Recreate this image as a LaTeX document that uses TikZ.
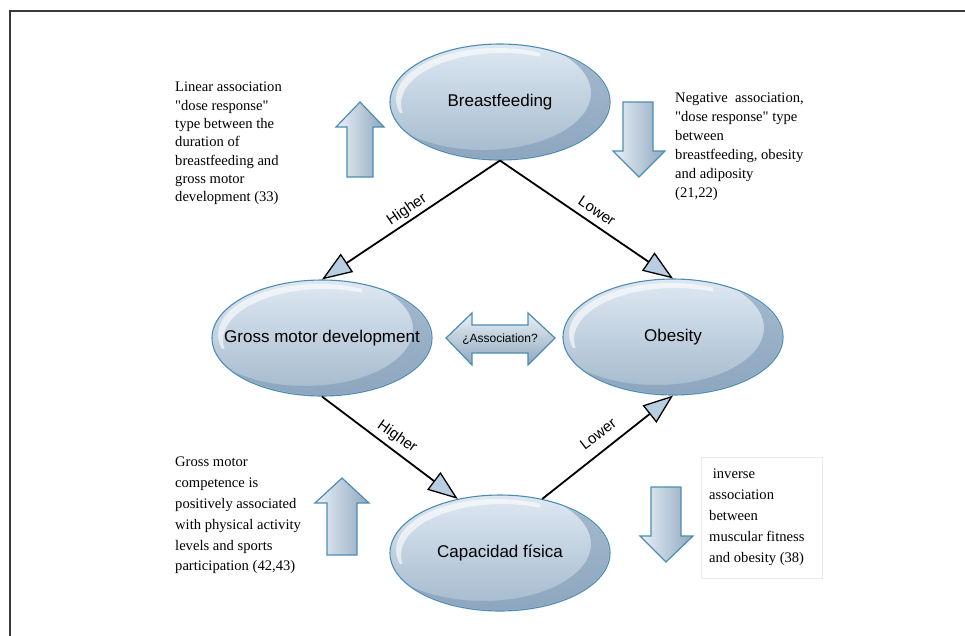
\documentclass[tikz,border=0pt]{standalone}
\usepackage{fontspec}
\setmainfont{Liberation Serif}[Ligatures=TeXOff]
\newfontfamily\arialf{Liberation Sans}
\usetikzlibrary{shapes.geometric,arrows.meta,calc}
\definecolor{rim}{HTML}{4E8DB3}
\definecolor{elltop}{HTML}{DEE8F2}
\definecolor{ellbot}{HTML}{A3B9CD}
\definecolor{crescent}{HTML}{7F9BB6}
\definecolor{tipblue}{HTML}{B8CFE3}
\definecolor{arrlight}{HTML}{EAF1F7}
\definecolor{arrdark}{HTML}{8EA7BE}
\definecolor{framec}{HTML}{3A3A3A}
\tikzset{
  blob/.style={ellipse, minimum width=220pt, minimum height=116pt, inner sep=0pt,
    top color=elltop, bottom color=ellbot, draw=rim, line width=1.1pt},
  blobtext/.style={inner sep=0pt, font=\arialf\fontsize{17}{20}\selectfont},
  conn/.style={line width=1.8pt, black,
    -{Triangle[length=30pt, width=22pt, fill=tipblue, line width=1.3pt]}},
  lbl/.style={font=\arialf\fontsize{15}{18}\selectfont, inner sep=0pt},
  blockarr/.style={left color=arrlight, right color=arrdark, draw=rim, line width=1.2pt},
  blockarrv/.style={top color=arrlight, bottom color=arrdark, draw=rim, line width=1.2pt},
  side/.style={anchor=north west, inner sep=0pt, align=left},
}
\newcommand\gloss[1]{%
  \begin{scope}
    \clip (#1.center) ellipse [x radius=109, y radius=57];
    \fill[crescent, opacity=0.6, even odd rule]
      (#1.center) ellipse [x radius=110, y radius=58]
      ($(#1.center)+(-17,-9)$) ellipse [x radius=108, y radius=57];
  \end{scope}
  \begin{scope}
    \clip ($(#1.center)+(-115,-62)$) rectangle ($(#1.center)+(40,10)$);
    \clip ($(#1.center)+(-3,-3)$) ellipse [x radius=101, y radius=51];
    \fill[white, opacity=0.6, even odd rule]
      ($(#1.center)+(-3,-3)$) ellipse [x radius=101, y radius=51]
      ($(#1.center)+(2,2)$) ellipse [x radius=101, y radius=51];
  \end{scope}
}
\begin{document}
\begin{tikzpicture}[x=1pt, y=-1pt]
\useasboundingbox (0,0) rectangle (965,635);
\fill[white] (0,0) rectangle (965,635);
\draw[framec, line width=2pt] (9.5,640) -- (9.5,10.5) -- (970,10.5);

% ellipses
\node[blob] (bf) at (500,102) {};
\node[blob] (gm) at (322,338) {};
\node[blob] (ob) at (673,337) {};
\node[blob] (cap) at (500,553) {};
\gloss{bf}\gloss{gm}\gloss{ob}\gloss{cap}
\node[blobtext] (bft) at (bf.center) {Breastfeeding};
\node[blobtext] (gmt) at (gm.center) {Gross motor development};
\node[blobtext] (obt) at (ob.center) {Obesity};
\node[blobtext] (capt) at (cap.center) {Capacidad física};

% connectors
\draw[conn] (bf.south) -- (gm.north);
\draw[conn] (bf.south) -- (ob.north);
\draw[conn] (gm.south) -- (cap.128);
\draw[conn] (cap.52) -- (ob.south);

\node[lbl, rotate=34] (h1) at (407,210) {Higher};
\node[lbl, rotate=-34] (l1) at (597,211) {Lower};
\node[lbl, rotate=-35] (h2) at (397,437) {Higher};
\node[lbl, rotate=37] (l2) at (598,434) {Lower};

% block arrows
\draw[blockarr] (360,102) -- (384,127) -- (373,127) -- (373,177) -- (347,177) -- (347,127) -- (336,127) -- cycle;
\draw[blockarr] (623,102) -- (653,102) -- (653,151) -- (665,151) -- (639,177) -- (613,151) -- (623,151) -- cycle;
\draw[blockarr] (342,478) -- (369,503) -- (357,503) -- (357,555) -- (327,555) -- (327,503) -- (315,503) -- cycle;
\draw[blockarr] (651,487) -- (681,487) -- (681,536) -- (693,536) -- (666,562) -- (640,536) -- (651,536) -- cycle;
\draw[blockarrv] (446,338) -- (472,313) -- (472,325) -- (528,325) -- (528,313) -- (555,338) -- (528,365) -- (528,353) -- (472,353) -- (472,365) -- cycle;
\node[font=\arialf\fontsize{12}{14}\selectfont, inner sep=0pt] (assoc) at (500,339) {¿Association?};

% side texts
\node[side, font=\fontsize{14.6}{18.3}\selectfont] (t1) at (175,82) {Linear association\\"dose response"\\type between the\\duration of\\breastfeeding and\\gross motor\\development (33)};
\node[side, font=\fontsize{14.6}{19}\selectfont] (t2) at (675,93) {Negative\ \ association,\\"dose response" type\\between\\breastfeeding, obesity\\and adiposity\\(21,22)};
\node[side, font=\fontsize{14.6}{20.8}\selectfont] (t3) at (175,457) {Gross motor\\competence is\\positively associated\\with physical activity\\levels and sports\\participation (42,43)};
\draw[black!8, line width=0.8pt] (701,457) rectangle (822,578);
\node[side, font=\fontsize{14.6}{21}\selectfont] (t4) at (709,469) {\ inverse\\association\\between\\muscular fitness\\and obesity (38)};
\end{tikzpicture}
\end{document}
